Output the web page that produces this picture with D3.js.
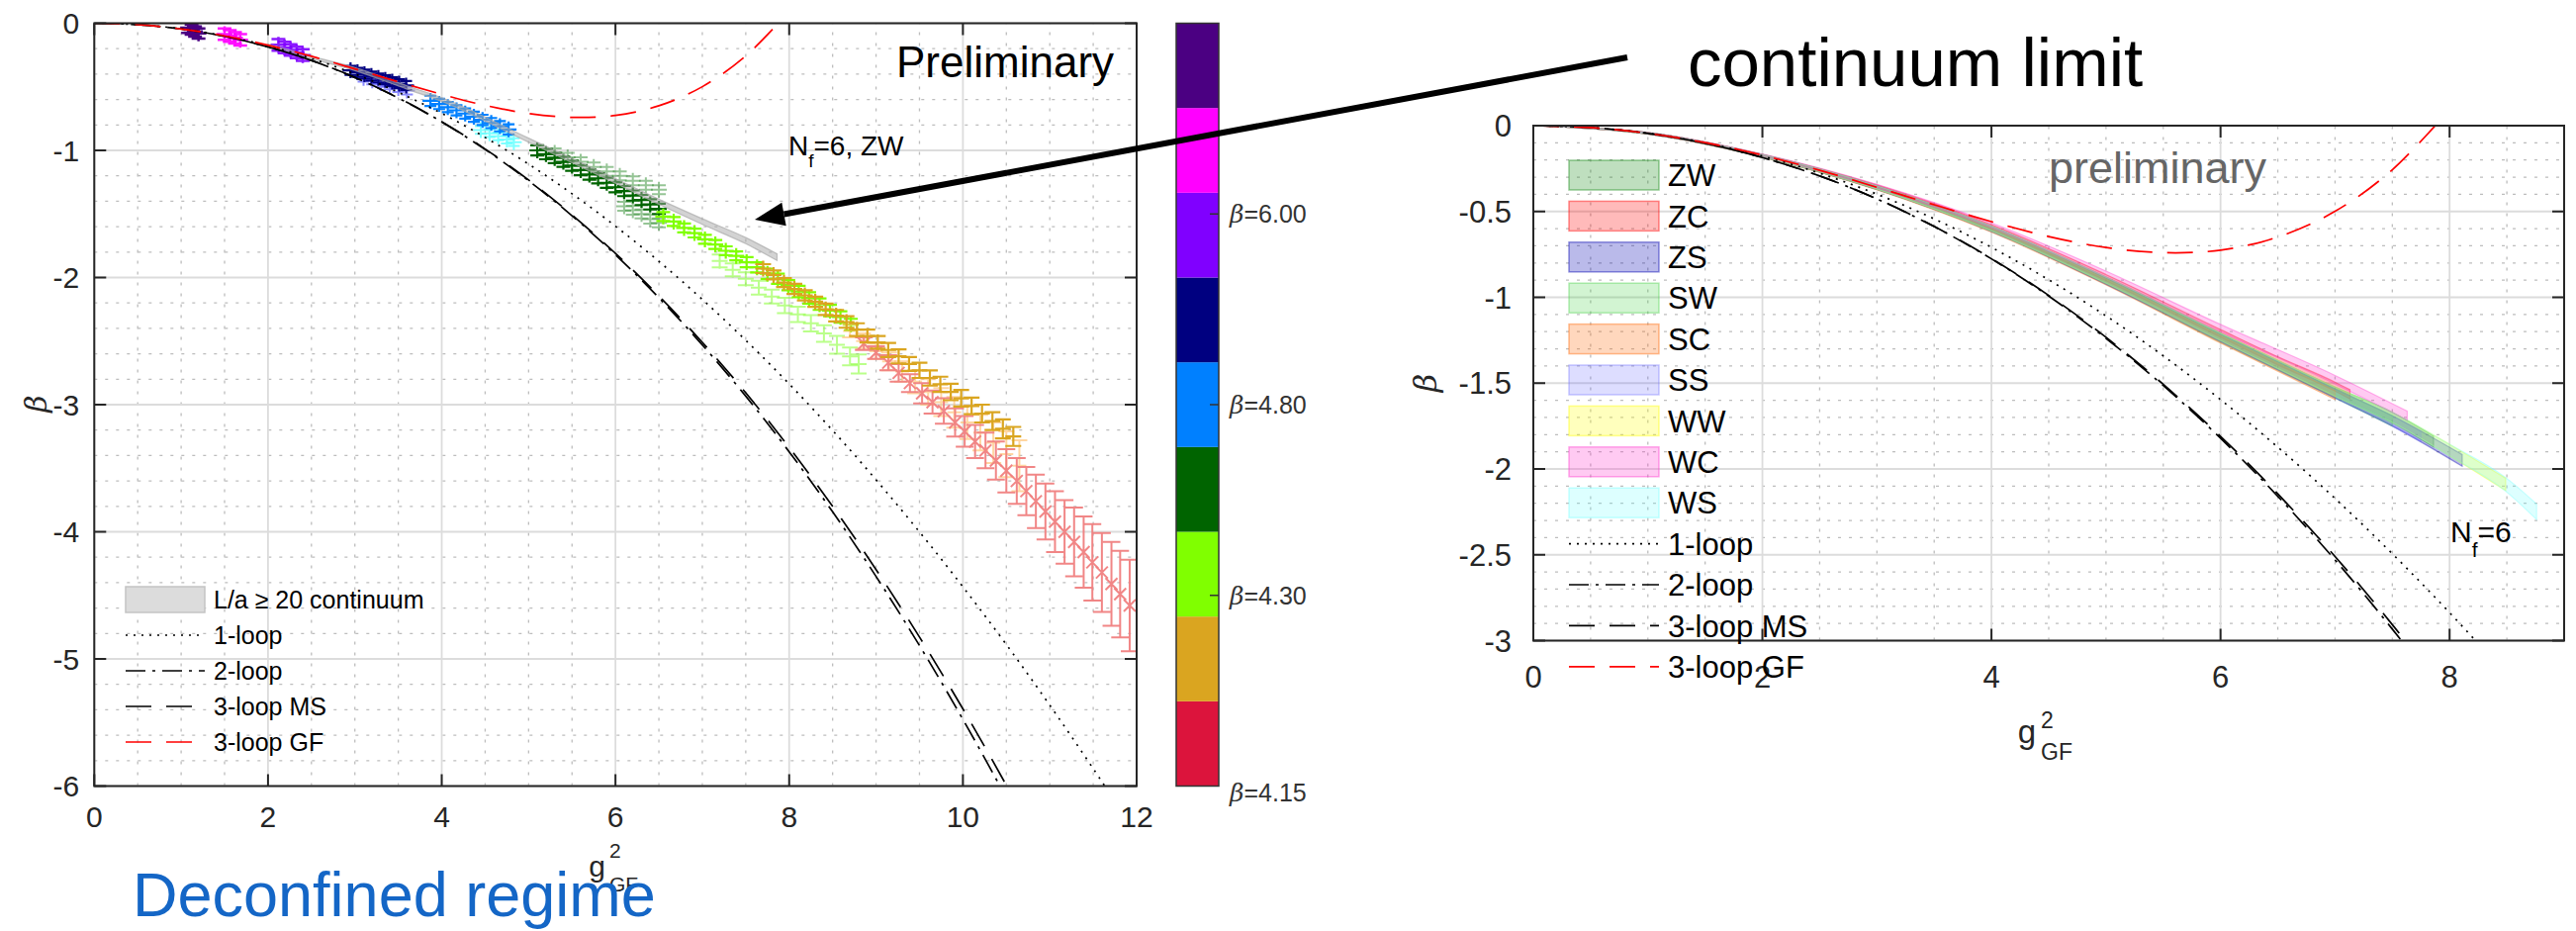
<!DOCTYPE html>
<html>
<head>
<meta charset="utf-8">
<script src="https://cdn.jsdelivr.net/npm/d3@7"></script>
<style>
body { margin:0; background:#fff; overflow:hidden; }
text { font-family: "Liberation Sans", Arial, Helvetica, sans-serif; }
</style>
</head>
<body>
<script>
// ---- perturbative curves ----
var gPT = [0,0.5,1,1.5,2,2.5,3,3.5,4,4.5,5,5.5,6,6.5,7,7.5,8,8.5,9,9.5,10,10.5,11,11.5,12];
var oneLoop = [0,-0.011,-0.044,-0.100,-0.177,-0.277,-0.399,-0.543,-0.709,-0.898,-1.108,-1.341,-1.596,-1.873,-2.172,-2.494,-2.837,-3.203,-3.591,-4.001,-4.433,-4.887,-5.364,-5.863,-6.383];
var twoLoop = [0,-0.011,-0.045,-0.103,-0.186,-0.293,-0.427,-0.588,-0.776,-0.993,-1.239,-1.514,-1.821,-2.159,-2.530,-2.933,-3.371,-3.843,-4.351,-4.895,-5.476,-6.094,-6.752,-7.448,-8.185];
var threeLoopMS = [0,-0.011,-0.045,-0.103,-0.186,-0.293,-0.426,-0.587,-0.774,-0.989,-1.233,-1.507,-1.810,-2.145,-2.510,-2.907,-3.337,-3.800,-4.297,-4.828,-5.393,-5.994,-6.631,-7.304,-8.014];
var threeLoopGF = [0,-0.011,-0.045,-0.099,-0.172,-0.260,-0.359,-0.461,-0.559,-0.646,-0.710,-0.740,-0.725,-0.649,-0.499,-0.257,0.094];

// ---- left panel: lattice data [g2, beta, err] ----
var indigoPts = [[1.08,-0.035,0.04],[1.12,-0.05,0.04],[1.16,-0.065,0.04],[1.20,-0.08,0.04]];
var magentaPts = [[1.50,-0.085,0.045],[1.56,-0.10,0.045],[1.62,-0.115,0.045],[1.68,-0.13,0.045]];
var purplePts = [[2.12,-0.17,0.045],[2.19,-0.19,0.045],[2.26,-0.21,0.045],[2.33,-0.23,0.045],[2.40,-0.25,0.045]];
var navyPts = [[2.95,-0.37,0.035],[3.03,-0.385,0.035],[3.11,-0.40,0.035],[3.19,-0.415,0.035],[3.27,-0.43,0.035],[3.35,-0.445,0.035],[3.43,-0.46,0.035],[3.51,-0.475,0.035],[3.59,-0.49,0.035]];
var navyLightPts = [[3.10,-0.43,0.03],[3.20,-0.45,0.03],[3.30,-0.47,0.03],[3.40,-0.49,0.03],[3.50,-0.51,0.03],[3.60,-0.53,0.03]];
var bluePts = [[3.87,-0.61,0.04],[3.97,-0.635,0.04],[4.07,-0.66,0.04],[4.17,-0.685,0.04],[4.27,-0.71,0.04],[4.37,-0.735,0.04],[4.47,-0.76,0.04],[4.57,-0.785,0.04],[4.67,-0.81,0.04],[4.77,-0.835,0.04]];
var cyanPts = [[4.45,-0.84,0.03],[4.55,-0.865,0.03],[4.65,-0.89,0.03],[4.75,-0.915,0.03],[4.83,-0.935,0.03]];
var greenPts = [[5.1,-1.00,0.04],[5.2,-1.03,0.04],[5.3,-1.06,0.04],[5.4,-1.09,0.04],[5.5,-1.12,0.04],[5.6,-1.155,0.04],[5.7,-1.19,0.04],[5.8,-1.22,0.04],[5.9,-1.255,0.04],[6.0,-1.29,0.04],[6.1,-1.32,0.04],[6.2,-1.355,0.04],[6.3,-1.39,0.04],[6.4,-1.425,0.04],[6.5,-1.46,0.04]];
var greenUpPts = [[5.30,-1.02,0.035],[5.45,-1.055,0.035],[5.60,-1.09,0.035],[5.75,-1.13,0.035],[5.90,-1.165,0.035],[6.05,-1.20,0.035],[6.20,-1.24,0.035],[6.35,-1.275,0.035],[6.50,-1.31,0.035]];
var greenLowPts = [[6.1,-1.44,0.035],[6.2,-1.47,0.035],[6.3,-1.50,0.035],[6.4,-1.54,0.035],[6.5,-1.57,0.035]];
var limePts = [[6.55,-1.52,0.035],[6.67,-1.56,0.035],[6.79,-1.61,0.035],[6.91,-1.65,0.035],[7.03,-1.70,0.035],[7.15,-1.74,0.035],[7.27,-1.79,0.035],[7.39,-1.83,0.035],[7.51,-1.88,0.04],[7.63,-1.92,0.04],[7.75,-1.97,0.04],[7.87,-2.01,0.04],[7.99,-2.06,0.04],[8.11,-2.11,0.045],[8.23,-2.16,0.045],[8.35,-2.21,0.045],[8.47,-2.26,0.045],[8.59,-2.31,0.045],[8.71,-2.37,0.045]];
var limeLightPts = [[7.20,-1.87,0.05],[7.35,-1.94,0.05],[7.50,-2.01,0.05],[7.65,-2.08,0.055],[7.80,-2.15,0.055],[7.95,-2.22,0.06],[8.10,-2.29,0.06],[8.25,-2.36,0.065],[8.40,-2.44,0.065],[8.55,-2.53,0.07],[8.70,-2.62,0.07],[8.80,-2.68,0.075]];
var goldPts = [[7.70,-1.93,0.035],[7.82,-1.98,0.035],[7.94,-2.04,0.035],[8.06,-2.09,0.04],[8.18,-2.14,0.04],[8.30,-2.19,0.04],[8.42,-2.25,0.045],[8.54,-2.30,0.045],[8.66,-2.35,0.045],[8.78,-2.41,0.05],[8.90,-2.46,0.05],[9.02,-2.51,0.05],[9.14,-2.57,0.055],[9.26,-2.62,0.055],[9.38,-2.68,0.055],[9.50,-2.73,0.06],[9.62,-2.79,0.06],[9.74,-2.84,0.06],[9.86,-2.90,0.065],[9.98,-2.95,0.065],[10.10,-3.01,0.065],[10.22,-3.07,0.07],[10.34,-3.13,0.07],[10.46,-3.19,0.075],[10.58,-3.25,0.075]];
var peachPts = [[8.70,-2.42,0.05],[8.85,-2.50,0.06],[9.00,-2.58,0.06],[9.15,-2.66,0.07],[9.30,-2.74,0.08],[9.45,-2.82,0.09],[9.60,-2.90,0.10],[9.75,-2.98,0.11],[9.90,-3.06,0.12],[10.05,-3.14,0.13],[10.20,-3.22,0.14],[10.35,-3.30,0.16],[10.50,-3.39,0.18],[10.65,-3.48,0.20]];
var redPts = [[8.86,-2.52,0.05],[9.00,-2.59,0.05],[9.14,-2.67,0.06],[9.26,-2.75,0.07],[9.39,-2.83,0.07],[9.53,-2.91,0.08],[9.65,-2.98,0.09],[9.78,-3.05,0.10],[9.91,-3.14,0.11],[10.02,-3.21,0.12],[10.14,-3.29,0.13],[10.26,-3.36,0.14],[10.38,-3.44,0.15],[10.50,-3.52,0.17],[10.62,-3.60,0.18],[10.73,-3.68,0.19],[10.84,-3.76,0.21],[10.95,-3.84,0.22],[11.06,-3.92,0.24],[11.17,-4.00,0.25],[11.28,-4.08,0.27],[11.39,-4.16,0.28],[11.49,-4.24,0.30],[11.60,-4.32,0.31],[11.71,-4.41,0.33],[11.81,-4.49,0.34],[11.92,-4.58,0.36]];

// continuum band (L/a >= 20), [g2, beta, halfwidth]
var contBand = [[2.0,-0.175,0.01],[2.5,-0.27,0.01],[3.0,-0.36,0.012],[3.6,-0.505,0.013],[4.0,-0.60,0.014],[5.0,-0.92,0.016],[6.0,-1.24,0.018],[6.55,-1.42,0.02],[7.0,-1.56,0.022],[7.5,-1.71,0.024],[7.86,-1.84,0.026]];

// ---- right panel: continuum extrapolations per scheme [g2, beta, halfwidth] ----
var zwBand = [[0,0,0],[1,-0.045,0.004],[2,-0.175,0.007],[3,-0.36,0.01],[4,-0.60,0.014],[5,-0.90,0.018],[6,-1.23,0.022],[7,-1.55,0.026],[7.5,-1.70,0.03],[7.86,-1.84,0.032]];
var zcBand = [[0,0,0],[1,-0.045,0.004],[2,-0.174,0.007],[3,-0.355,0.01],[4,-0.59,0.014],[5,-0.885,0.018],[6,-1.21,0.022],[6.5,-1.37,0.024],[7,-1.52,0.026],[7.13,-1.565,0.027]];
var zsBand = [[0,0,0],[1,-0.045,0.004],[2,-0.176,0.007],[3,-0.362,0.01],[4,-0.602,0.014],[5,-0.905,0.018],[6,-1.235,0.022],[7,-1.56,0.026],[7.5,-1.72,0.03],[8.11,-1.95,0.034]];
var swBand = [[0,0,0],[1,-0.045,0.004],[2,-0.176,0.007],[3,-0.362,0.01],[4,-0.603,0.014],[5,-0.905,0.018],[6,-1.24,0.022],[7,-1.56,0.026],[7.5,-1.72,0.03]];
var scBand = [[0,0,0],[1,-0.045,0.004],[2,-0.177,0.007],[3,-0.364,0.01],[4,-0.607,0.014],[5,-0.91,0.018],[6,-1.245,0.022],[7,-1.57,0.026]];
var ssBand = [[0,0,0],[1,-0.045,0.004],[2,-0.176,0.007],[3,-0.362,0.01],[4,-0.602,0.014],[5,-0.905,0.018],[6,-1.235,0.022],[7,-1.56,0.026],[7.5,-1.72,0.03],[7.75,-1.81,0.031]];
var wwBand = [[0,0,0],[1,-0.045,0.004],[2,-0.175,0.007],[3,-0.36,0.01],[4,-0.60,0.014],[5,-0.90,0.018],[6,-1.23,0.022],[7,-1.55,0.026],[7.5,-1.70,0.03],[8,-1.89,0.033],[8.49,-2.09,0.036]];
var wcBand = [[0,0,0],[1,-0.044,0.004],[2,-0.172,0.007],[3,-0.352,0.01],[4,-0.58,0.014],[5,-0.865,0.018],[6,-1.18,0.022],[7,-1.48,0.025],[7.63,-1.69,0.027]];
var wsBand = [[0,0,0],[1,-0.045,0.004],[2,-0.175,0.007],[3,-0.36,0.01],[4,-0.60,0.014],[5,-0.90,0.018],[6,-1.23,0.022],[7,-1.55,0.026],[7.5,-1.70,0.03],[8,-1.89,0.034],[8.49,-2.09,0.04],[8.76,-2.25,0.045]];

// ---- ticks, labels ----
var leftXTicks = [0,2,4,6,8,10,12];
var leftYTicks = [0,-1,-2,-3,-4,-5,-6];
var rightXTicks = [0,2,4,6,8];
var rightYTicks = [0,-0.5,-1,-1.5,-2,-2.5,-3];
var cbColors = ["#dc143c","#daa520","#80ff00","#006400","#0080ff","#000080","#8000ff","#ff00ff","#4b0082"]; // bottom to top
var cbTickPos = [0,2.25,4.5,6.75];
var cbTickLabels = ["=4.15","=4.30","=4.80","=6.00"];
var schemeNames = ["ZW","ZC","ZS","SW","SC","SS","WW","WC","WS"];
var lineNames = ["1-loop","2-loop","3-loop MS","3-loop GF"];

var W = 2604, H = 941;
var svg = d3.select("body").append("svg").attr("width", W).attr("height", H);
svg.append("rect").attr("width", W).attr("height", H).attr("fill", "#fff");

var xL = d3.scaleLinear().domain([0,12]).range([95.3,1149]);
var yL = d3.scaleLinear().domain([-6,0]).range([794.5,23.5]);
var xR = d3.scaleLinear().domain([0,9]).range([1550,2592]);
var yR = d3.scaleLinear().domain([-3,0]).range([647.5,127]);
var cbY = d3.scaleLinear().domain([0,9]).range([794.5,23.5]);

var lineStyles = [
  {dash:"2 6", color:"#000"},
  {dash:"20 7 3 7", color:"#000"},
  {dash:"26 15", color:"#000"},
  {dash:"26 15", color:"#ff0000"}
];
var ptCurves = [oneLoop, twoLoop, threeLoopMS, threeLoopGF];

function grid(xs, ys, xStep, yStep, xt, yt, id) {
  var xd = xs.domain(), yd = ys.domain(), xr = xs.range(), yr = ys.range();
  var g = svg.append("g");
  d3.range(xd[0]+xStep, xd[1]-1e-9, xStep).forEach(function(v){
    if (xt.indexOf(+v.toFixed(3)) < 0)
      g.append("line").attr("x1", xs(v)).attr("x2", xs(v)).attr("y1", yr[0]).attr("y2", yr[1])
        .attr("stroke","#bdbdbd").attr("stroke-width",1.3).attr("stroke-dasharray","3 8");
  });
  d3.range(yd[0]+yStep, yd[1]-1e-9, yStep).forEach(function(v){
    if (yt.indexOf(+v.toFixed(3)) < 0)
      g.append("line").attr("y1", ys(v)).attr("y2", ys(v)).attr("x1", xr[0]).attr("x2", xr[1])
        .attr("stroke","#bdbdbd").attr("stroke-width",1.3).attr("stroke-dasharray","3 8");
  });
  xt.forEach(function(v){
    g.append("line").attr("x1", xs(v)).attr("x2", xs(v)).attr("y1", yr[0]).attr("y2", yr[1])
      .attr("stroke","#dcdcdc").attr("stroke-width",1.8);
  });
  yt.forEach(function(v){
    g.append("line").attr("y1", ys(v)).attr("y2", ys(v)).attr("x1", xr[0]).attr("x2", xr[1])
      .attr("stroke","#dcdcdc").attr("stroke-width",1.8);
  });
  svg.append("clipPath").attr("id", id).append("rect")
    .attr("x", xr[0]).attr("y", yr[1]).attr("width", xr[1]-xr[0]).attr("height", yr[0]-yr[1]);
}

function frame(xs, ys, xt, yt, tl) {
  var xr = xs.range(), yr = ys.range();
  var g = svg.append("g").attr("stroke","#262626").attr("stroke-width",2).attr("fill","none");
  g.append("rect").attr("x", xr[0]).attr("y", yr[1]).attr("width", xr[1]-xr[0]).attr("height", yr[0]-yr[1]);
  xt.forEach(function(v){
    g.append("line").attr("x1", xs(v)).attr("x2", xs(v)).attr("y1", yr[0]).attr("y2", yr[0]-tl);
    g.append("line").attr("x1", xs(v)).attr("x2", xs(v)).attr("y1", yr[1]).attr("y2", yr[1]+tl);
  });
  yt.forEach(function(v){
    g.append("line").attr("y1", ys(v)).attr("y2", ys(v)).attr("x1", xr[0]).attr("x2", xr[0]+tl);
    g.append("line").attr("y1", ys(v)).attr("y2", ys(v)).attr("x1", xr[1]).attr("x2", xr[1]-tl);
  });
}

function tickLabels(xs, ys, xt, yt, fs, xLabY, yLabGap) {
  var g = svg.append("g").attr("fill","#262626").style("font-size", fs+"px");
  xt.forEach(function(v){
    g.append("text").attr("x", xs(v)).attr("y", xLabY).attr("dy","0.36em")
      .attr("text-anchor","middle").text(String(v));
  });
  yt.forEach(function(v){
    g.append("text").attr("x", xs.range()[0]-yLabGap).attr("y", ys(v)).attr("dy","0.36em")
      .attr("text-anchor","end").text(String(v));
  });
}

function drawCurves(xs, ys, clip) {
  var g = svg.append("g").attr("clip-path", "url(#"+clip+")");
  var line = d3.line().x(function(d){return xs(d[0]);}).y(function(d){return ys(d[1]);}).curve(d3.curveCatmullRom);
  ptCurves.forEach(function(c, i){
    var pts = c.map(function(b, k){ return [gPT[k], b]; });
    g.append("path").attr("d", line(pts)).attr("fill","none")
      .attr("stroke", lineStyles[i].color).attr("stroke-width",1.7)
      .attr("stroke-dasharray", lineStyles[i].dash);
  });
}

function drawPoints(g, xs, ys, pts, st) {
  var grp = g.append("g").attr("stroke", st.color).attr("stroke-opacity", st.op)
    .attr("stroke-width", st.lw || 2).attr("fill","none");
  pts.forEach(function(p){
    var x = xs(p[0]), y = ys(p[1]), y1 = ys(p[1]+p[2]), y2 = ys(p[1]-p[2]);
    var d = "M"+x+","+y1+"V"+y2+
            "M"+(x-st.cap)+","+y1+"H"+(x+st.cap)+
            "M"+(x-st.cap)+","+y2+"H"+(x+st.cap);
    if (st.mk == "+") d += "M"+(x-st.m)+","+y+"H"+(x+st.m)+"M"+x+","+(y-st.m)+"V"+(y+st.m);
    else d += "M"+(x-st.m)+","+(y-st.m)+"L"+(x+st.m)+","+(y+st.m)+"M"+(x-st.m)+","+(y+st.m)+"L"+(x+st.m)+","+(y-st.m);
    grp.append("path").attr("d", d);
  });
}

function band(g, xs, ys, data, color, op) {
  var area = d3.area().x(function(d){return xs(d[0]);})
    .y0(function(d){return ys(d[1]-d[2]);}).y1(function(d){return ys(d[1]+d[2]);})
    .curve(d3.curveMonotoneX);
  g.append("path").attr("d", area(data)).attr("fill", color).attr("fill-opacity", op)
    .attr("stroke", color).attr("stroke-opacity", op*1.4).attr("stroke-width", 1.2);
}

// ================= LEFT PANEL =================
grid(xL, yL, 0.5, 0.2, leftXTicks, leftYTicks, "clipL");
var gl = svg.append("g").attr("clip-path","url(#clipL)");

var leftSeries = [
  {pts: indigoPts,    color:"#4b0082", op:1,    mk:"+", m:8, cap:7, lw:2.5},
  {pts: magentaPts,   color:"#ff00ff", op:0.9,  mk:"+", m:8, cap:7, lw:2.5},
  {pts: purplePts,    color:"#8000ff", op:0.9,  mk:"+", m:8, cap:7, lw:2.5},
  {pts: navyLightPts, color:"#3c3cff", op:0.6,  mk:"+", m:8, cap:6},
  {pts: navyPts,      color:"#000080", op:1,    mk:"+", m:8, cap:6, lw:2.2},
  {pts: cyanPts,      color:"#66ffff", op:0.85, mk:"+", m:8, cap:6},
  {pts: bluePts,      color:"#0080ff", op:1,    mk:"+", m:8, cap:6, lw:2.2},
  {pts: greenUpPts,   color:"#2e8b2e", op:0.5,  mk:"+", m:8, cap:7},
  {pts: greenLowPts,  color:"#2e8b2e", op:0.5,  mk:"+", m:8, cap:7},
  {pts: greenPts,     color:"#006400", op:1,    mk:"+", m:8, cap:7, lw:2.2},
  {pts: limeLightPts, color:"#8cff3c", op:0.6,  mk:"+", m:8, cap:8},
  {pts: limePts,      color:"#80ff00", op:1,    mk:"+", m:8, cap:7, lw:2.2},
  {pts: peachPts,     color:"#ffc070", op:0.65, mk:"+", m:7, cap:8},
  {pts: redPts,       color:"#f08080", op:0.95, mk:"x", m:6, cap:9},
  {pts: goldPts,      color:"#daa520", op:1,    mk:"+", m:8, cap:8, lw:2.2}
];
leftSeries.forEach(function(s){ drawPoints(gl, xL, yL, s.pts, s); });

band(gl, xL, yL, contBand, "#a8a8a8", 0.5);
drawCurves(xL, yL, "clipL");
frame(xL, yL, leftXTicks, leftYTicks, 12);
tickLabels(xL, yL, leftXTicks, leftYTicks, 30, 825, 15);

// left legend
var legL = svg.append("g");
var legLRows = [606, 642, 678, 714, 750];
legL.append("rect").attr("x",127).attr("y",legLRows[0]-13).attr("width",80).attr("height",26)
  .attr("fill","#dcdcdc").attr("stroke","#c4c4c4").attr("stroke-width",1.5);
legL.append("text").attr("x",216).attr("y",legLRows[0]).attr("dy","0.36em").style("font-size","25px")
  .text("L/a  \u2265 20 continuum");
lineNames.forEach(function(n, i){
  var y = legLRows[i+1];
  legL.append("line").attr("x1",127).attr("x2",207).attr("y1",y).attr("y2",y)
    .attr("stroke", lineStyles[i].color).attr("stroke-width",1.7).attr("stroke-dasharray", lineStyles[i].dash);
  legL.append("text").attr("x",216).attr("y",y).attr("dy","0.36em").style("font-size","25px").text(n);
});

// axis labels left
svg.append("text").attr("transform","translate(36,408) rotate(-90)").attr("text-anchor","middle")
  .attr("dy","0.36em").style("font-family","'DejaVu Serif', 'Liberation Serif', serif").style("font-style","italic")
  .style("font-size","30px").attr("fill","#262626").text("\u03b2");
svg.append("text").attr("x",612).attr("y",886).attr("text-anchor","end").style("font-size","30px").attr("fill","#262626").text("g");
svg.append("text").attr("x",616).attr("y",867).style("font-size","21px").attr("fill","#262626").text("2");
svg.append("text").attr("x",616).attr("y",901).style("font-size","21px").attr("fill","#262626").text("GF");

svg.append("text").attr("x",906).attr("y",78).style("font-size","44px").attr("fill","#000").text("Preliminary");
var nf1 = svg.append("text").attr("x",797).attr("y",157).style("font-size","28px").attr("fill","#000");
nf1.append("tspan").text("N");
nf1.append("tspan").attr("dy",12).style("font-size","19px").text("f");
nf1.append("tspan").attr("dy",-12).text("=6, ZW");

// colorbar
var cb = svg.append("g");
cbColors.forEach(function(c, i){
  cb.append("rect").attr("x",1189).attr("y",cbY(i+1)).attr("width",43).attr("height",cbY(i)-cbY(i+1)).attr("fill",c);
});
cb.append("rect").attr("x",1189).attr("y",cbY(9)).attr("width",43).attr("height",cbY(0)-cbY(9))
  .attr("fill","none").attr("stroke","#333").attr("stroke-width",1.5);
cbTickPos.forEach(function(p, i){
  if (i > 0) cb.append("line").attr("x1",1223).attr("x2",1232).attr("y1",cbY(p)).attr("y2",cbY(p))
    .attr("stroke","#333").attr("stroke-width",1.5);
  var t = cb.append("text").attr("x",1243).attr("y", cbY(p) + (i == 0 ? 6 : 0)).attr("dy","0.36em")
    .style("font-size","25px").attr("fill","#333");
  t.append("tspan").style("font-family","'DejaVu Serif', serif").style("font-style","italic").text("\u03b2");
  t.append("tspan").text(cbTickLabels[i]);
});

svg.append("text").attr("x",134).attr("y",926).style("font-size","63px").attr("fill","#1466c6").text("Deconfined regime");

// ================= RIGHT PANEL =================
grid(xR, yR, 0.5, 0.1, rightXTicks, rightYTicks, "clipR");
var gr = svg.append("g").attr("clip-path","url(#clipR)");
var schemeBands = [zwBand, zcBand, zsBand, swBand, scBand, ssBand, wwBand, wcBand, wsBand];
var schemeStyle = [
  {c:"#008000", o:0.25}, {c:"#ff0000", o:0.27}, {c:"#0000b0", o:0.27},
  {c:"#33cc33", o:0.22}, {c:"#ff6600", o:0.26}, {c:"#6666ff", o:0.22},
  {c:"#ffff00", o:0.26}, {c:"#ff33cc", o:0.26}, {c:"#66ffff", o:0.22}
];
schemeBands.forEach(function(b, i){ band(gr, xR, yR, b, schemeStyle[i].c, schemeStyle[i].o); });
drawCurves(xR, yR, "clipR");
frame(xR, yR, rightXTicks, rightYTicks, 12);
tickLabels(xR, yR, rightXTicks, rightYTicks, 31, 684, 22);

// right legend
var legR = svg.append("g");
var rowR = d3.scaleLinear().domain([0,1]).range([177, 218.4]);
schemeNames.forEach(function(n, i){
  var y = rowR(i);
  legR.append("rect").attr("x",1586).attr("y",y-15).attr("width",91).attr("height",30)
    .attr("fill", schemeStyle[i].c).attr("fill-opacity", schemeStyle[i].o)
    .attr("stroke", schemeStyle[i].c).attr("stroke-opacity", schemeStyle[i].o*1.6).attr("stroke-width",1.5);
  legR.append("text").attr("x",1686).attr("y",y).attr("dy","0.36em").style("font-size","31px").text(n);
});
lineNames.forEach(function(n, i){
  var y = rowR(i+9);
  legR.append("line").attr("x1",1586).attr("x2",1677).attr("y1",y).attr("y2",y)
    .attr("stroke", lineStyles[i].color).attr("stroke-width",1.7).attr("stroke-dasharray", lineStyles[i].dash);
  legR.append("text").attr("x",1686).attr("y",y).attr("dy","0.36em").style("font-size","31px").text(n);
});

svg.append("text").attr("transform","translate(1440,387) rotate(-90)").attr("text-anchor","middle")
  .attr("dy","0.36em").style("font-family","'DejaVu Serif', 'Liberation Serif', serif").style("font-style","italic")
  .style("font-size","32px").attr("fill","#262626").text("\u03b2");
svg.append("text").attr("x",2058).attr("y",751).attr("text-anchor","end").style("font-size","33px").attr("fill","#262626").text("g");
svg.append("text").attr("x",2063).attr("y",736).style("font-size","23px").attr("fill","#262626").text("2");
svg.append("text").attr("x",2063).attr("y",768).style("font-size","23px").attr("fill","#262626").text("GF");

svg.append("text").attr("x",2071).attr("y",185).style("font-size","45px").attr("fill","#666").text("preliminary");
var nf2 = svg.append("text").attr("x",2477).attr("y",548).style("font-size","30px").attr("fill","#000");
nf2.append("tspan").text("N");
nf2.append("tspan").attr("dy",15).style("font-size","21px").text("f");
nf2.append("tspan").attr("dy",-15).text("=6");

// ================= annotation =================
svg.append("text").attr("x",1706).attr("y",87).style("font-size","69px").attr("fill","#000").text("continuum limit");
var tail = [1645, 58], tip = [763, 222];
var dx = tail[0]-tip[0], dy = tail[1]-tip[1], len = Math.sqrt(dx*dx+dy*dy);
var ux = dx/len, uy = dy/len, hl = 30, hw = 12;
var base = [tip[0]+ux*hl, tip[1]+uy*hl];
svg.append("line").attr("x1",tail[0]).attr("y1",tail[1]).attr("x2",base[0]).attr("y2",base[1])
  .attr("stroke","#000").attr("stroke-width",6);
svg.append("path").attr("fill","#000")
  .attr("d","M"+tip[0]+","+tip[1]+"L"+(base[0]-uy*hw)+","+(base[1]+ux*hw)+"L"+(base[0]+uy*hw)+","+(base[1]-ux*hw)+"Z");
</script>
</body>
</html>
